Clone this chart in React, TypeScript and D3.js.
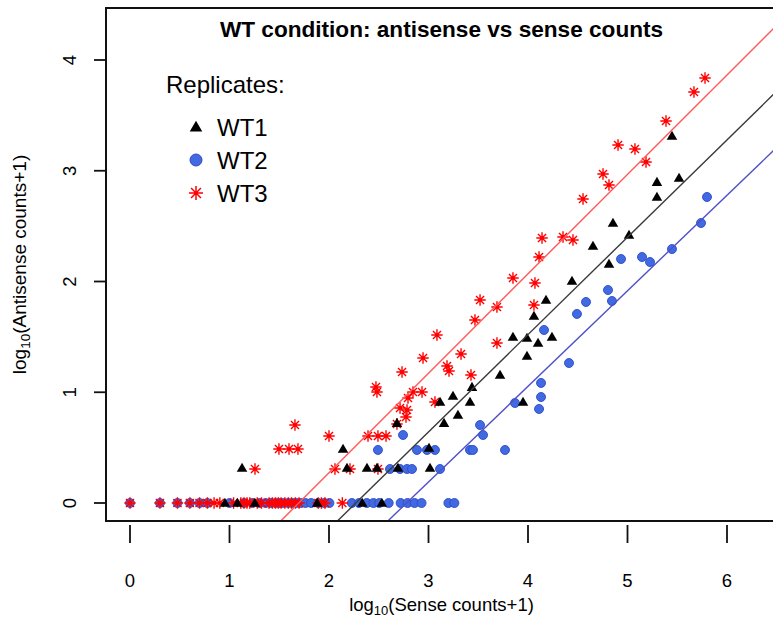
import React from 'react';
import * as d3 from 'd3';

const xTicks = [0, 1, 2, 3, 4, 5, 6];
const yTicks = [0, 1, 2, 3, 4];
const seriesNames = ['WT1', 'WT2', 'WT3'];
const titleText = 'WT condition: antisense vs sense counts';
const legendTitle = 'Replicates:';

// [log10(sense+1), log10(antisense+1)]
const wt1Points: [number, number][] = [
  [0.954, 0], [1.079, 0], [1.255, 0], [1.881, 0], [2.334, 0], [2.531, 0],
  [1.126, 0.316], [2.141, 0.488], [2.181, 0.316], [2.382, 0.316], [2.482, 0.316],
  [2.693, 0.316], [3.015, 0.316], [2.683, 0.722], [3.005, 0.497], [3.116, 0.912],
  [3.156, 0.722], [3.246, 0.966], [3.296, 0.795], [3.417, 0.912], [3.437, 1.047],
  [3.719, 1.156], [3.95, 0.912], [3.849, 1.499], [3.99, 1.49], [4.101, 1.445],
  [4.241, 1.499], [3.99, 1.327], [4.06, 1.689], [4.181, 1.833], [4.442, 2.005],
  [4.653, 2.321], [4.814, 2.158], [4.854, 2.528], [5.015, 2.42], [5.296, 2.763],
  [5.296, 2.898], [5.518, 2.935], [5.447, 3.314],
];

const wt2Points: [number, number][] = [
  [0, 0], [0.301, 0], [0.477, 0], [0.602, 0], [0.699, 0], [0.778, 0], [1.0, 0],
  [1.146, 0], [1.23, 0], [1.301, 0], [1.362, 0], [1.415, 0], [1.462, 0], [1.505, 0],
  [1.544, 0], [1.591, 0], [1.633, 0], [1.672, 0], [1.716, 0], [1.763, 0], [1.82, 0],
  [1.892, 0], [1.954, 0], [2.004, 0], [2.23, 0], [2.301, 0], [2.38, 0], [2.447, 0],
  [2.505, 0], [2.6, 0], [2.72, 0], [2.79, 0], [2.86, 0], [2.93, 0], [3.2, 0], [3.26, 0],
  [2.492, 0.479], [2.744, 0.614], [2.884, 0.479], [2.985, 0.479], [3.065, 0.479],
  [3.417, 0.479], [3.447, 0.479], [3.769, 0.479], [3.518, 0.704], [3.548, 0.614],
  [2.613, 0.307], [2.714, 0.307], [2.784, 0.307], [2.834, 0.307], [3.116, 0.307],
  [3.869, 0.903], [4.111, 0.849], [4.131, 0.957], [4.131, 1.084], [4.412, 1.264],
  [4.161, 1.562], [4.492, 1.707], [4.583, 1.815], [4.844, 1.824], [4.804, 1.923],
  [4.935, 2.203], [5.146, 2.221], [5.226, 2.176], [5.447, 2.293], [5.739, 2.528],
  [5.799, 2.763],
];

const wt3Points: [number, number][] = [
  [0, 0], [0.301, 0], [0.477, 0], [0.602, 0], [0.699, 0], [0.778, 0], [0.845, 0],
  [0.903, 0], [1.041, 0], [1.114, 0], [1.146, 0], [1.176, 0], [1.204, 0], [1.279, 0],
  [1.322, 0], [1.398, 0], [1.431, 0], [1.462, 0], [1.491, 0], [1.519, 0], [1.556, 0],
  [1.591, 0], [1.623, 0], [1.663, 0], [1.699, 0], [1.892, 0], [1.924, 0], [1.959, 0],
  [2.134, 0],
  [1.256, 0.307], [1.497, 0.488], [1.598, 0.488], [1.688, 0.488], [1.658, 0.704],
  [2.0, 0.605], [2.06, 0.307], [2.211, 0.307], [2.492, 0.307], [2.392, 0.605],
  [2.492, 0.605], [2.573, 0.605], [2.683, 0.713], [2.714, 0.858], [2.784, 0.84],
  [2.774, 0.777], [2.794, 0.948], [2.734, 1.183], [2.472, 1.047], [2.482, 1.002],
  [2.844, 1.002], [2.935, 1.002], [3.065, 0.912], [2.945, 1.309], [3.085, 1.517],
  [3.327, 1.345], [3.186, 1.237], [3.206, 1.192], [3.427, 1.156], [3.467, 1.652],
  [3.518, 1.833], [3.688, 1.77], [3.688, 1.445], [3.849, 2.032], [4.06, 1.788],
  [4.07, 1.986], [4.111, 2.221], [4.141, 2.393], [4.352, 2.402], [4.452, 2.375],
  [4.553, 2.745], [4.754, 2.971], [4.814, 2.871], [4.905, 3.233], [5.075, 3.196],
  [5.186, 3.079], [5.387, 3.449], [5.668, 3.711], [5.779, 3.837],
];

// linear fits: antisense = intercept + slope * sense (WT1, WT2, WT3)
const fitIntercepts = [-1.995, -2.399, -1.523];
const fitSlopes = [0.879, 0.863, 0.898];

const W = 773;
const H = 620;
const box = { left: 106, top: 8, right: 777, bottom: 521 };
const FONT = '"Liberation Sans", Arial, Helvetica, sans-serif';

const lineColors = ['#3a3a3a', '#5050c8', '#ff5858'];
const blueFill = '#4169e1';
const blueStroke = '#2d4cc8';
const red = '#ff0000';

function starPath(cx: number, cy: number, r: number) {
  const d = r * 0.7071;
  return `M${cx - r},${cy}H${cx + r}M${cx},${cy - r}V${cy + r}` +
    `M${cx - d},${cy - d}L${cx + d},${cy + d}M${cx - d},${cy + d}L${cx + d},${cy - d}`;
}

export default function App() {
  const x = d3.scaleLinear().domain([0, 6]).range([130, 727]);
  const y = d3.scaleLinear().domain([0, 4]).range([503, 60]);
  const tri = d3.symbol().type(d3.symbolTriangle).size(48);
  const triLeg = d3.symbol().type(d3.symbolTriangle).size(68);

  const fitLine = (i: number) => {
    const x0 = -1, x1 = 8;
    return d3.line()([
      [x(x0), y(fitIntercepts[i] + fitSlopes[i] * x0)],
      [x(x1), y(fitIntercepts[i] + fitSlopes[i] * x1)],
    ]) as string;
  };

  const cx = (box.left + box.right) / 2;
  const cy = (box.top + box.bottom) / 2;

  return (
    <svg width={W} height={H} style={{ position: 'absolute', left: 0, top: 0, background: '#fff' }}
      fontFamily={FONT}>
      <defs>
        <clipPath id="plotclip">
          <rect x={box.left} y={box.top} width={box.right - box.left} height={box.bottom - box.top} />
        </clipPath>
      </defs>
      <rect x={0} y={0} width={W} height={H} fill="#fff" />

      <g clipPath="url(#plotclip)">
        {wt2Points.map((p, i) => (
          <circle key={'b' + i} cx={x(p[0])} cy={y(p[1])} r={4.5} fill={blueFill} stroke={blueStroke} strokeWidth={0.9} />
        ))}
        {wt3Points.map((p, i) => (
          <path key={'r' + i} d={starPath(x(p[0]), y(p[1]), 5.7)} stroke={red} strokeWidth={1.4} fill="none" />
        ))}
        {wt1Points.map((p, i) => (
          <path key={'k' + i} d={tri() as string} transform={`translate(${x(p[0])},${y(p[1]) + 0.8})`} fill="#000" />
        ))}
        {[0, 1, 2].map((i) => (
          <path key={'f' + i} d={fitLine(i)} stroke={lineColors[i]} strokeWidth={1.4} fill="none" />
        ))}
      </g>

      <rect x={box.left} y={box.top} width={box.right - box.left} height={box.bottom - box.top}
        fill="none" stroke="#111" strokeWidth={2} />

      {xTicks.map((t) => (
        <g key={'xt' + t}>
          <line x1={x(t)} x2={x(t)} y1={box.bottom + 4} y2={box.bottom + 22} stroke="#111" strokeWidth={1.8} />
          <text x={x(t)} y={587} textAnchor="middle" fontSize={18.5}>{t}</text>
        </g>
      ))}
      {yTicks.map((t) => (
        <g key={'yt' + t}>
          <line x1={box.left - 12} x2={box.left} y1={y(t)} y2={y(t)} stroke="#111" strokeWidth={1.8} />
          <text transform={`translate(${76},${y(t)}) rotate(-90)`} textAnchor="middle" fontSize={18.5}>{t}</text>
        </g>
      ))}

      <text x={cx} y={611} textAnchor="middle" fontSize={18.5}>
        log<tspan fontSize={13} dy={4}>10</tspan><tspan dy={-4}>(Sense counts+1)</tspan>
      </text>
      <text transform={`translate(${26},${cy}) rotate(-90)`} textAnchor="middle" fontSize={19}>
        log<tspan fontSize={13.5} dy={4}>10</tspan><tspan dy={-4}>(Antisense counts+1)</tspan>
      </text>

      <text x={cx} y={37} textAnchor="middle" fontSize={22.6} fontWeight="bold">{titleText}</text>

      <text x={166} y={93} fontSize={24}>{legendTitle}</text>
      <path d={triLeg() as string} transform={`translate(196,128)`} fill="#000" />
      <circle cx={196} cy={160} r={6} fill={blueFill} stroke={blueStroke} strokeWidth={1} />
      <path d={starPath(196, 193, 7)} stroke={red} strokeWidth={1.5} fill="none" />
      {seriesNames.map((s, i) => (
        <text key={s} x={217} y={136 + i * 33} fontSize={24}>{s}</text>
      ))}
    </svg>
  );
}
